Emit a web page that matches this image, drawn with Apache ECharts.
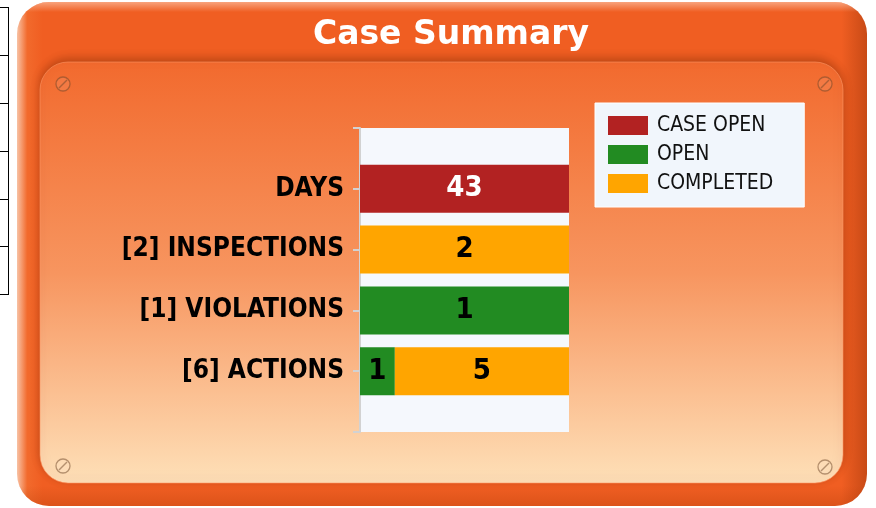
<!DOCTYPE html>
<html>
<head>
<meta charset="utf-8">
<script src="https://cdn.jsdelivr.net/npm/echarts@6/dist/echarts.min.js"></script>
<style>
html, body { margin: 0; padding: 0; background: #fff; }
#case_chart { width: 876px; height: 508px; }
</style>
</head>
<body>
<div id="case_chart"></div>
<script>
var categories = ['DAYS', '[2] INSPECTIONS', '[1] VIOLATIONS', '[6] ACTIONS'];
var legendNames = ['CASE OPEN', 'OPEN', 'COMPLETED'];
var caseOpenVals = [43, 0, 0, 0];
var openVals = [0, 0, 1, 1];
var completedVals = [0, 2, 0, 5];
var colorList = ['#B22222', '#228B22', '#FFA500'];

var rawList = [caseOpenVals, openVals, completedVals];

// 100% stacked: each row is scaled to its own total
var totals = categories.map(function (c, i) {
    return caseOpenVals[i] + openVals[i] + completedVals[i];
});

// one blank slot at each end so the bars sit on the ticks
var axisData = [''].concat(categories, ['']);

function screw(cx, cy) {
    return [
        { type: 'circle', z: -5, shape: { cx: cx, cy: cy, r: 7 },
          style: { fill: 'rgba(255,255,255,0.08)', stroke: 'rgba(110,70,40,0.5)', lineWidth: 1.3 } },
        { type: 'line', z: -5, shape: { x1: cx - 4, y1: cy + 4, x2: cx + 4, y2: cy - 4 },
          style: { stroke: 'rgba(110,70,40,0.5)', lineWidth: 1.5 } }
    ];
}

var graphics = [
    /* outer orange frame */
    { type: 'rect', z: -20, shape: { x: 17, y: 2, width: 850, height: 504, r: 32 },
      style: {
          fill: new echarts.graphic.LinearGradient(0, 0, 1, 0, [
              { offset: 0, color: '#F8C2A4' },
              { offset: 0.012, color: '#F26A2C' },
              { offset: 0.03, color: '#F05E22' },
              { offset: 0.97, color: '#F05E22' },
              { offset: 1, color: '#C84A16' }
          ])
      } },
    { type: 'rect', z: -19, shape: { x: 17, y: 2, width: 850, height: 504, r: 32 },
      style: {
          fill: new echarts.graphic.LinearGradient(0, 0, 0, 1, [
              { offset: 0, color: 'rgba(255,220,200,0.55)' },
              { offset: 0.02, color: 'rgba(255,220,200,0)' },
              { offset: 0.96, color: 'rgba(160,50,0,0)' },
              { offset: 1, color: 'rgba(160,50,0,0.25)' }
          ])
      } },
    /* inner panel */
    { type: 'rect', z: -15, shape: { x: 40, y: 62, width: 803, height: 421, r: 28 },
      style: {
          fill: new echarts.graphic.LinearGradient(0, 0, 0, 1, [
              { offset: 0, color: '#F26A2E' },
              { offset: 0.5, color: '#F7955F' },
              { offset: 1, color: '#FEE0B8' }
          ]),
          stroke: 'rgba(255,150,100,0.6)', lineWidth: 1,
          shadowBlur: 10, shadowOffsetY: -3, shadowColor: 'rgba(120,40,0,0.45)'
      } },
    /* bit of a table peeking in from the left */
    { type: 'line', z: -5, shape: { x1: 8.5, y1: 7, x2: 8.5, y2: 294 }, style: { stroke: '#000', lineWidth: 1 } }
];
[7, 55, 103, 151, 199, 246, 294].forEach(function (y) {
    graphics.push({ type: 'line', z: -5, shape: { x1: 0, y1: y + 0.5, x2: 9, y2: y + 0.5 }, style: { stroke: '#000', lineWidth: 1 } });
});
graphics = graphics.concat(screw(63, 84), screw(825, 84), screw(63, 466), screw(825, 467));

var series = [];
for (var s = 0; s < 3; s++) {
    (function (s) {
        var pct = rawList[s].map(function (v, i) {
            return v ? v / totals[i] * 100 : null;
        });
        series.push({
            name: legendNames[s],
            type: 'bar',
            stack: 'total',
            barWidth: 48,
            data: [null].concat(pct, [null]),
            itemStyle: { color: colorList[s] },
            label: {
                show: true,
                position: 'inside',
                color: s == 0 ? '#fff' : '#000',
                fontFamily: 'DejaVu Sans Condensed',
                fontWeight: 'bold',
                fontSize: 29,
                formatter: function (params) {
                    var v = rawList[s][params.dataIndex - 1];
                    return v ? String(v) : '';
                }
            }
        });
    })(s);
}

var case_chart = document.getElementById('case_chart');
var caseChart = echarts.init(case_chart);

option = {
    animation: false,
    title: {
        text: 'Case Summary',
        left: 446,
        top: 14,
        textAlign: 'center',
        textStyle: {
            color: '#fff',
            fontFamily: 'DejaVu Sans',
            fontWeight: 'bold',
            fontSize: 33
        }
    },
    legend: {
        orient: 'vertical',
        left: 595,
        top: 103,
        data: legendNames,
        icon: 'rect',
        itemWidth: 40,
        itemHeight: 19,
        itemGap: 8,
        padding: [12, 31, 13, 13],
        backgroundColor: '#F1F6FC',
        borderColor: '#ffffff',
        borderWidth: 1,
        textStyle: {
            color: '#111',
            fontFamily: 'DejaVu Sans Condensed',
            fontSize: 21,
            padding: [0, 0, 0, 4]
        }
    },
    grid: {
        left: 360,
        top: 128,
        width: 209,
        height: 304,
        show: true,
        backgroundColor: '#F5F8FD',
        borderWidth: 0
    },
    xAxis: {
        type: 'value',
        min: 0,
        max: 100,
        show: false
    },
    yAxis: {
        type: 'category',
        data: axisData,
        inverse: true,
        boundaryGap: false,
        axisLine: {
            show: true,
            lineStyle: { color: '#D2D2D2', width: 2 }
        },
        axisTick: {
            show: true,
            length: 7,
            lineStyle: { color: '#D2D2D2', width: 2 }
        },
        axisLabel: {
            margin: 16,
            color: '#000',
            fontFamily: 'DejaVu Sans Condensed',
            fontWeight: 'bold',
            fontSize: 26
        },
        splitLine: { show: false }
    },
    graphic: { elements: graphics },
    series: series
};

option && caseChart.setOption(option);
</script>
</body>
</html>
